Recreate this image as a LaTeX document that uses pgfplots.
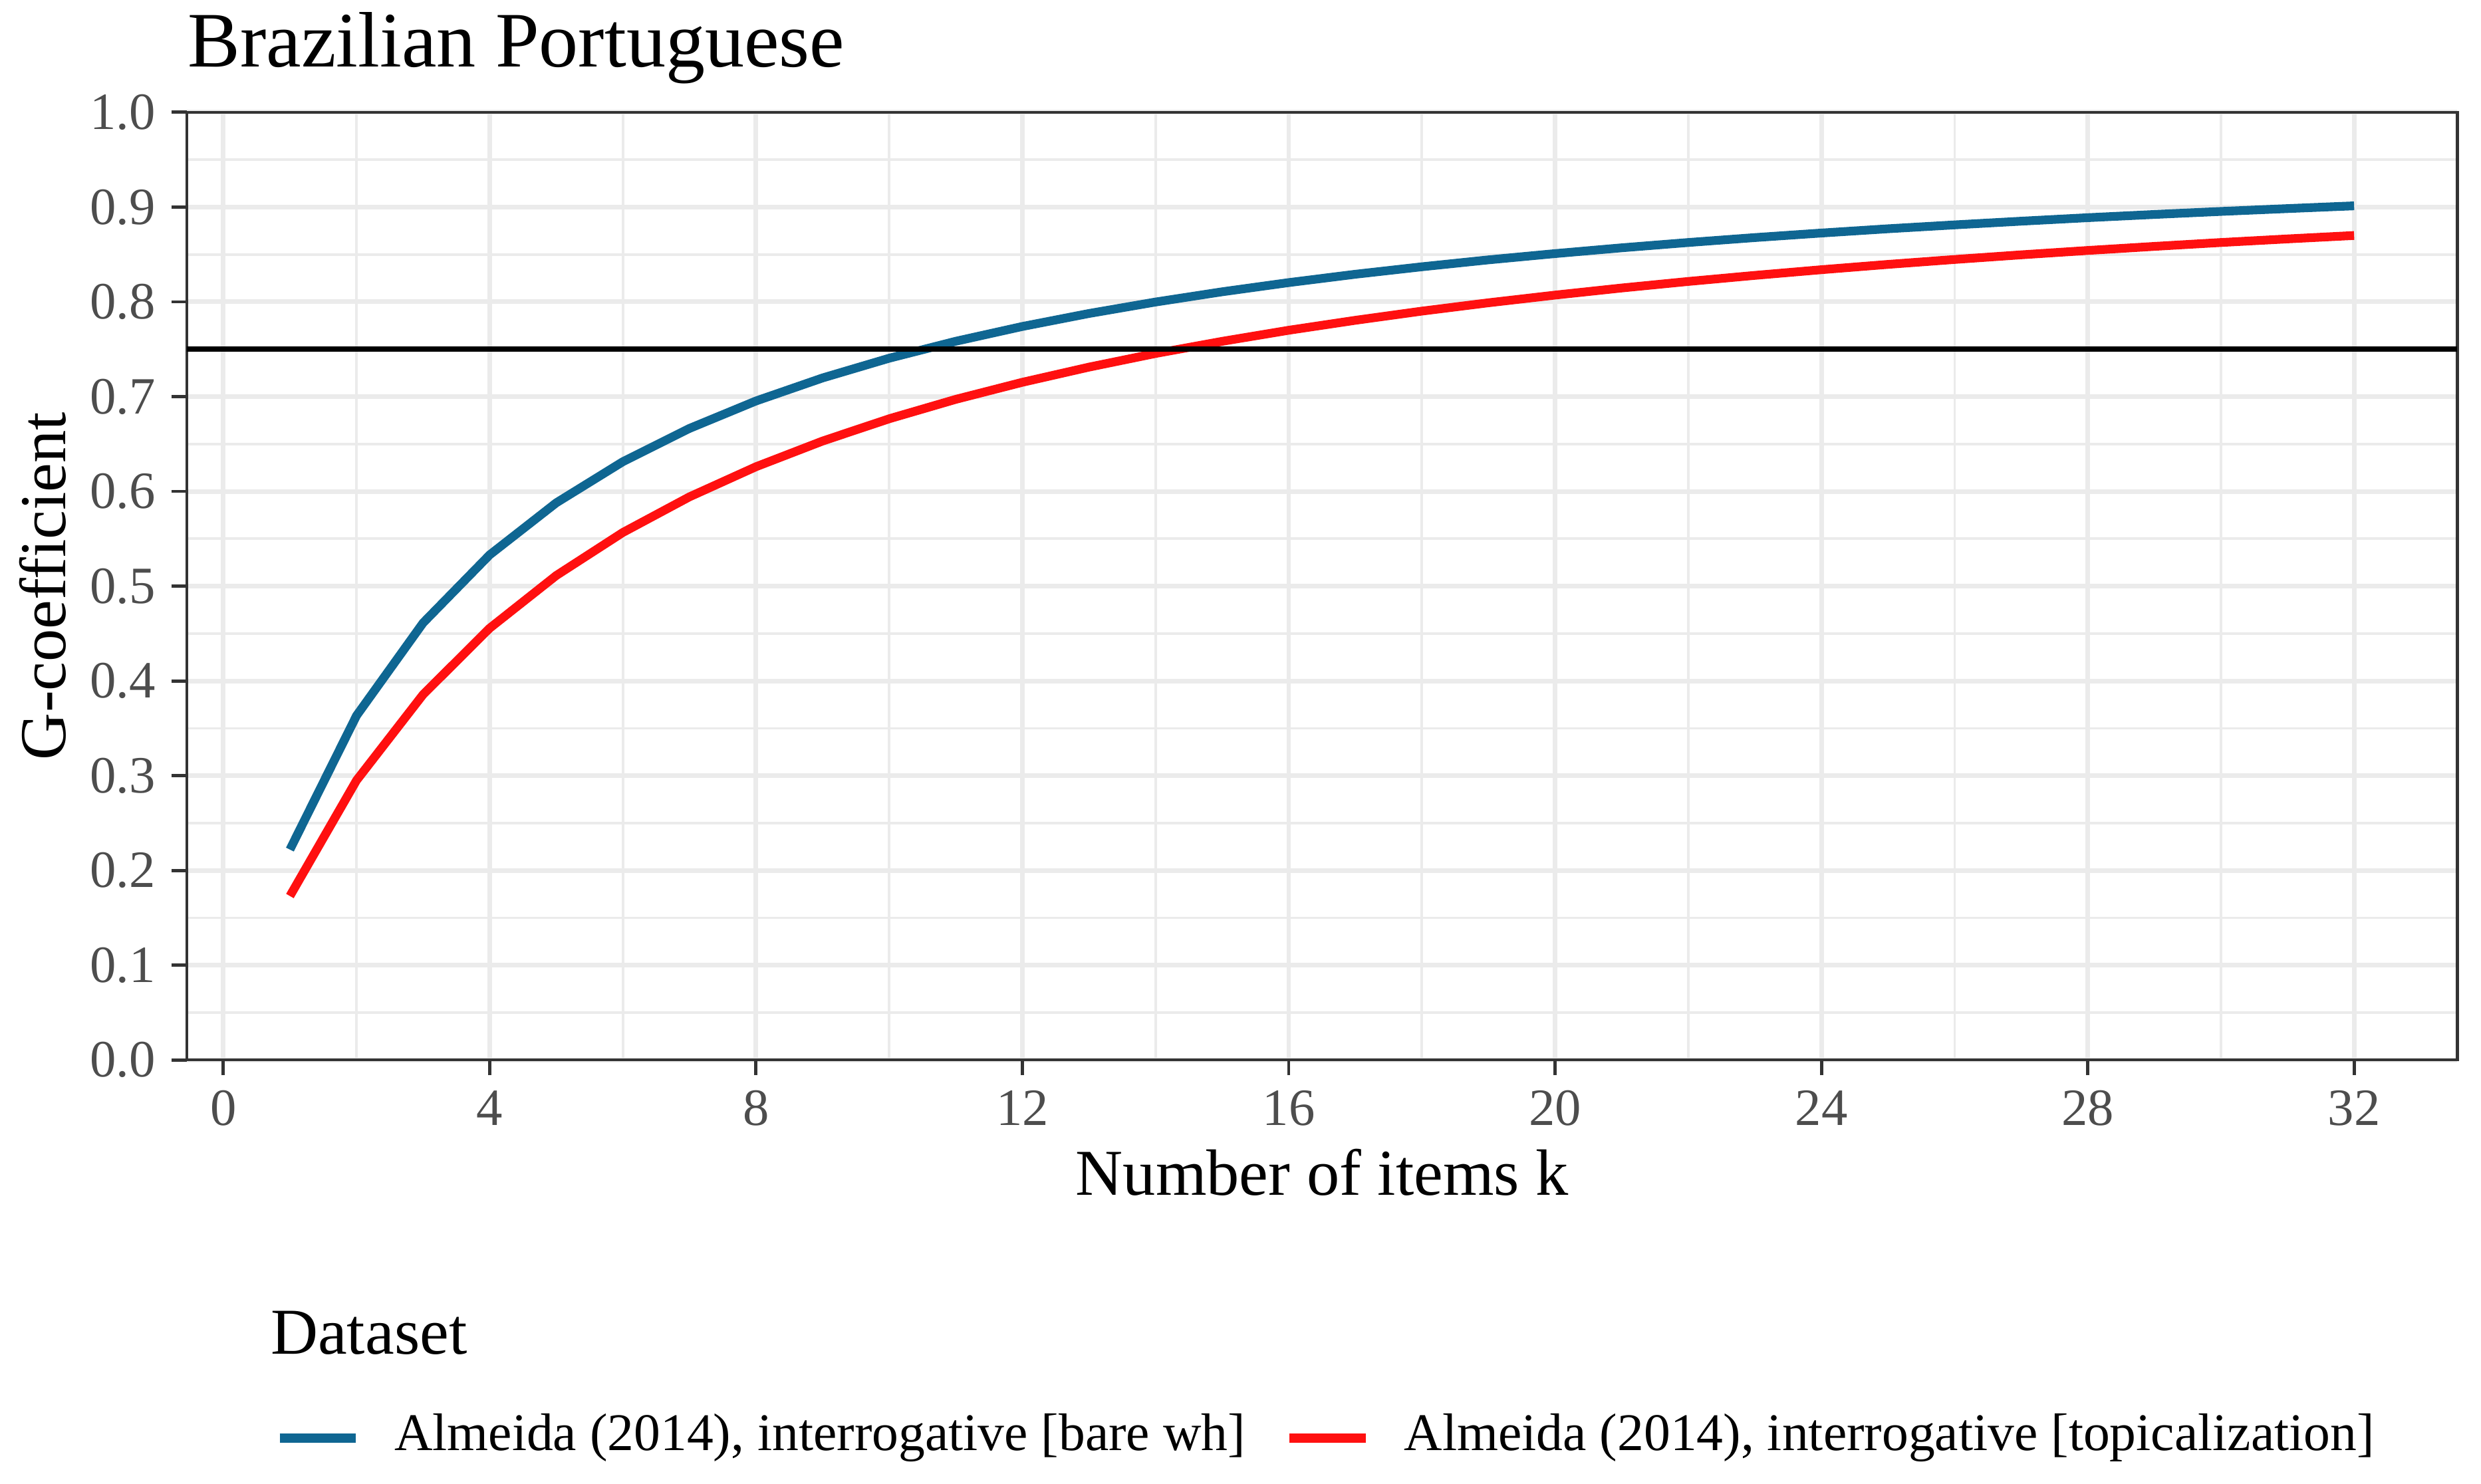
\documentclass[border=0pt]{standalone}
\usepackage{pgfplots}
\pgfplotsset{compat=1.18}
\usepackage{fontspec}
\setmainfont{Liberation Serif}
\definecolor{gA}{HTML}{EBEBEB}
\definecolor{gB}{HTML}{333333}
\definecolor{gC}{HTML}{4D4D4D}
\definecolor{cblue}{HTML}{0F6692}
\definecolor{cred}{HTML}{FF1010}
\begin{document}
\begin{tikzpicture}
\begin{axis}[
  at={(0,0)}, anchor=south west,
  scale only axis, width=416.15pt, height=173.71pt,
  xmin=-0.55, xmax=33.55, ymin=0, ymax=1,
  xtick={0,4,8,12,16,20,24,28,32},
  xticklabels={0,4,8,12,16,20,24,28,32},
  minor xtick={2,6,10,14,18,22,26,30},
  ytick={0,0.1,0.2,0.3,0.4,0.5,0.6,0.7,0.8,0.9,1},
  yticklabels={0.0,0.1,0.2,0.3,0.4,0.5,0.6,0.7,0.8,0.9,1.0},
  minor ytick={0.05,0.15,0.25,0.35,0.45,0.55,0.65,0.75,0.85,0.95},
  grid=both,
  major grid style={draw=gA, line width=0.85pt},
  minor grid style={draw=gA, line width=0.45pt},
  axis line style={draw=gB, line width=0.55pt},
  tick style={draw=gB, line width=0.6pt},
  major tick length=2.8pt, minor tick length=0pt,
  tick align=outside, xtick pos=bottom, ytick pos=left,
  tick label style={font=\fontsize{9.6}{11}\selectfont, text=gC},
  xticklabel style={yshift=0.7pt},
  yticklabel style={xshift=0.6pt},
  legend columns=2,
  legend cell align=left,
  legend style={draw=none, fill=none, inner sep=0pt, outer sep=0pt,
    at={(0.0390,-0.3973)}, anchor=west,
    font=\fontsize{9.7}{11}\selectfont,
    nodes={inner sep=0pt},
    /tikz/every odd column/.append style={column sep=6.25pt},
    /tikz/every even column/.append style={column sep=7.3pt}},
  legend image code/.code={\draw[#1] (0pt,-0.3pt) -- (14pt,-0.3pt);},
]
\addplot[cblue, line width=1.6pt] coordinates {
(1,0.2220)(2,0.3633)(3,0.4612)(4,0.5330)(5,0.5879)(6,0.6313)(7,0.6664)(8,0.6954)
(9,0.7197)(10,0.7405)(11,0.7584)(12,0.7740)(13,0.7877)(14,0.7998)(15,0.8106)(16,0.8203)
(17,0.8291)(18,0.8370)(19,0.8443)(20,0.8509)(21,0.8570)(22,0.8626)(23,0.8678)(24,0.8726)
(25,0.8771)(26,0.8812)(27,0.8851)(28,0.8888)(29,0.8922)(30,0.8954)(31,0.8984)(32,0.9013)};
\addlegendentry{Almeida (2014), interrogative [bare wh]}
\addplot[cred, line width=1.6pt] coordinates {
(1,0.1730)(2,0.2950)(3,0.3856)(4,0.4556)(5,0.5112)(6,0.5566)(7,0.5942)(8,0.6260)
(9,0.6531)(10,0.6766)(11,0.6971)(12,0.7151)(13,0.7311)(14,0.7455)(15,0.7583)(16,0.7700)
(17,0.7805)(18,0.7902)(19,0.7990)(20,0.8071)(21,0.8146)(22,0.8215)(23,0.8279)(24,0.8339)
(25,0.8395)(26,0.8447)(27,0.8496)(28,0.8542)(29,0.8585)(30,0.8626)(31,0.8664)(32,0.8700)};
\addlegendentry{Almeida (2014), interrogative [topicalization]}
\addplot[black, line width=1pt, forget plot] coordinates {(-0.55,0.75)(33.55,0.75)};
\end{axis}
\node[anchor=base west, inner sep=0pt, font=\fontsize{14.4}{16}\selectfont] at (0pt,182.1pt) {Brazilian Portuguese};
\node[anchor=base, inner sep=0pt, font=\fontsize{12}{14}\selectfont] at (208.1pt,-24.8pt) {Number of items k};
\node[anchor=center, inner sep=0pt, rotate=90, font=\fontsize{12}{14}\selectfont] at (-26.4pt,86.86pt) {G-coefficient};
\node[anchor=base west, inner sep=0pt, font=\fontsize{12}{14}\selectfont] at (15.2pt,-53.9pt) {Dataset};
\pgfresetboundingbox
\path[use as bounding box] (-34.22pt,-77.72pt) rectangle (420.5pt,194.3pt);
\end{tikzpicture}
\end{document}
